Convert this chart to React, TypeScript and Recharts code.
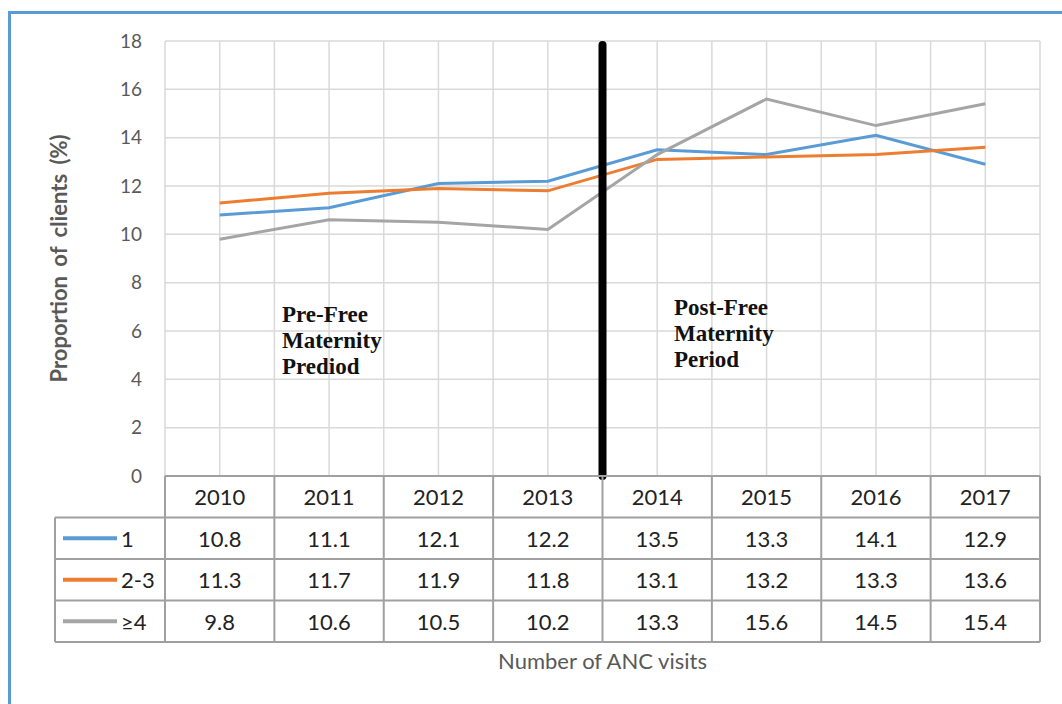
import React from 'react'
import { LineChart, Line, XAxis, YAxis, CartesianGrid, ReferenceLine } from 'recharts'

const years = ['2010', '2011', '2012', '2013', '2014', '2015', '2016', '2017']
const visits1 = [10.8, 11.1, 12.1, 12.2, 13.5, 13.3, 14.1, 12.9]
const visits2to3 = [11.3, 11.7, 11.9, 11.8, 13.1, 13.2, 13.3, 13.6]
const visits4plus = [9.8, 10.6, 10.5, 10.2, 13.3, 15.6, 14.5, 15.4]
const seriesNames = ['1', '2-3', '≥4']
const yTicks = [0, 2, 4, 6, 8, 10, 12, 14, 16, 18]
// policy change falls between 2013 and 2014
const policyBreak = 3.5

const COLORS = ['#5B9BD5', '#ED7D31', '#A5A5A5']
const seriesKeys = ['v1', 'v2', 'v3']
const seriesValues = [visits1, visits2to3, visits4plus]

const data = years.map((year, i) => ({
  i,
  year,
  v1: visits1[i],
  v2: visits2to3[i],
  v3: visits4plus[i],
}))

// tick at every half step: integers carry the table text, halves carry column borders
const xTicks = Array.from({ length: years.length * 2 + 1 }, (_, k) => -0.5 + k / 2)

const W = 1062
const H = 704
const PLOT_LEFT = 165
const PLOT_RIGHT = 1040
const PLOT_TOP = 41
const AXIS_H = 196
const HEADER_H = 41.5
const ROW_H = 41.5
const LEGEND_LEFT = 55
const BORDER = '#A0A0A0'
const TEXT = '#222'
const SANS = 'Lato, "Liberation Sans", sans-serif'

const TableTick = (props: any) => {
  const { x, y, payload } = props
  const v = payload.value as number
  const bottom = y + HEADER_H + ROW_H * seriesNames.length

  if (!Number.isInteger(v)) {
    const parts: React.ReactNode[] = [
      <line key="col" x1={x} x2={x} y1={y} y2={bottom} stroke={BORDER} strokeWidth={2} />,
    ]
    if (v === xTicks[0]) {
      parts.push(
        <line key="top" x1={x} x2={PLOT_RIGHT} y1={y} y2={y} stroke={BORDER} strokeWidth={2} />
      )
      for (let r = 0; r <= seriesNames.length; r++) {
        const ry = y + HEADER_H + ROW_H * r
        parts.push(
          <line key={`h${r}`} x1={LEGEND_LEFT} x2={PLOT_RIGHT} y1={ry} y2={ry} stroke={BORDER} strokeWidth={2} />
        )
      }
      parts.push(
        <line key="lg" x1={LEGEND_LEFT} x2={LEGEND_LEFT} y1={y + HEADER_H} y2={bottom} stroke={BORDER} strokeWidth={2} />
      )
      seriesNames.forEach((name, s) => {
        const cy = y + HEADER_H + ROW_H * s + ROW_H / 2
        parts.push(
          <g key={`leg${s}`}>
            <line x1={LEGEND_LEFT + 8} x2={LEGEND_LEFT + 62} y1={cy} y2={cy} stroke={COLORS[s]} strokeWidth={4} />
            <text x={LEGEND_LEFT + 66} y={cy} dominantBaseline="central" fontSize={22} fontFamily={SANS} fill={TEXT}>
              {name}
            </text>
          </g>
        )
      })
    }
    return <g>{parts}</g>
  }

  return (
    <g>
      <text x={x} y={y + HEADER_H / 2} textAnchor="middle" dominantBaseline="central" fontSize={22} fontFamily={SANS} fill={TEXT}>
        {years[v]}
      </text>
      {seriesValues.map((vals, s) => (
        <text
          key={s}
          x={x}
          y={y + HEADER_H + ROW_H * s + ROW_H / 2}
          textAnchor="middle"
          dominantBaseline="central"
          fontSize={22}
          fontFamily={SANS}
          fill={TEXT}
        >
          {vals[v].toFixed(1)}
        </text>
      ))}
    </g>
  )
}

const YTitle = (props: any) => {
  const vb = props.viewBox || { x: 0, y: PLOT_TOP, width: PLOT_LEFT, height: 435 }
  const cx = 67
  const cy = vb.y + vb.height / 2
  return (
    <text
      x={cx}
      y={cy}
      transform={`rotate(-90, ${cx}, ${cy})`}
      textAnchor="middle"
      fontSize={22}
      fontWeight="bold"
      fontFamily={SANS}
      wordSpacing={4}
      fill="#595959"
    >
      Proportion of clients (%)
    </text>
  )
}

const noteStyle = {
  fontFamily: '"Liberation Serif", "Times New Roman", serif',
  fontWeight: 'bold' as const,
  fontSize: 23,
  fill: '#111',
}

export default function App() {
  return (
    <div style={{ position: 'absolute', left: 0, top: 0, width: W, height: H, background: '#fff' }}>
      <div
        style={{
          position: 'absolute',
          left: 8,
          top: 11,
          width: W - 8,
          height: H - 11,
          borderLeft: '3px solid #5B9BD5',
          borderTop: '3px solid #5B9BD5',
          boxSizing: 'border-box',
        }}
      />
      <div style={{ position: 'absolute', left: 0, top: 0 }}>
        <LineChart
          width={W}
          height={H}
          data={data}
          margin={{ top: PLOT_TOP, right: W - PLOT_RIGHT, left: 0, bottom: 32 }}
        >
          <CartesianGrid stroke="#D9D9D9" strokeWidth={1.5} />
          <XAxis
            type="number"
            dataKey="i"
            domain={[-0.5, years.length - 0.5]}
            ticks={xTicks}
            interval={0}
            height={AXIS_H}
            axisLine={false}
            tickLine={false}
            tickSize={0}
            tickMargin={0}
            tick={TableTick}
            label={{
              value: 'Number of ANC visits',
              position: 'insideBottom',
              offset: 3,
              fontSize: 22,
              fontFamily: SANS,
              fill: '#595959',
            }}
          />
          <YAxis
            width={PLOT_LEFT}
            domain={[0, 18]}
            ticks={yTicks}
            interval={0}
            axisLine={false}
            tickLine={false}
            tickSize={0}
            tickMargin={23}
            tick={{ fontSize: 19, fontFamily: SANS, fill: '#595959' }}
            label={{ content: YTitle }}
          />
          {seriesKeys.map((k, s) => (
            <Line
              key={k}
              type="linear"
              dataKey={k}
              name={seriesNames[s]}
              stroke={COLORS[s]}
              strokeWidth={3}
              dot={false}
              isAnimationActive={false}
            />
          ))}
          <ReferenceLine
            segment={[
              { x: policyBreak, y: 17.83 },
              { x: policyBreak, y: 0 },
            ]}
            stroke="#000"
            strokeWidth={8}
            strokeLinecap="round"
          />
          <g>
            <text x={282} y={322} style={noteStyle}>Pre-Free</text>
            <text x={282} y={348} style={noteStyle}>Maternity</text>
            <text x={282} y={374} style={noteStyle}>Prediod</text>
            <text x={674} y={315} style={noteStyle}>Post-Free</text>
            <text x={674} y={341} style={noteStyle}>Maternity</text>
            <text x={674} y={367} style={noteStyle}>Period</text>
          </g>
        </LineChart>
      </div>
    </div>
  )
}
